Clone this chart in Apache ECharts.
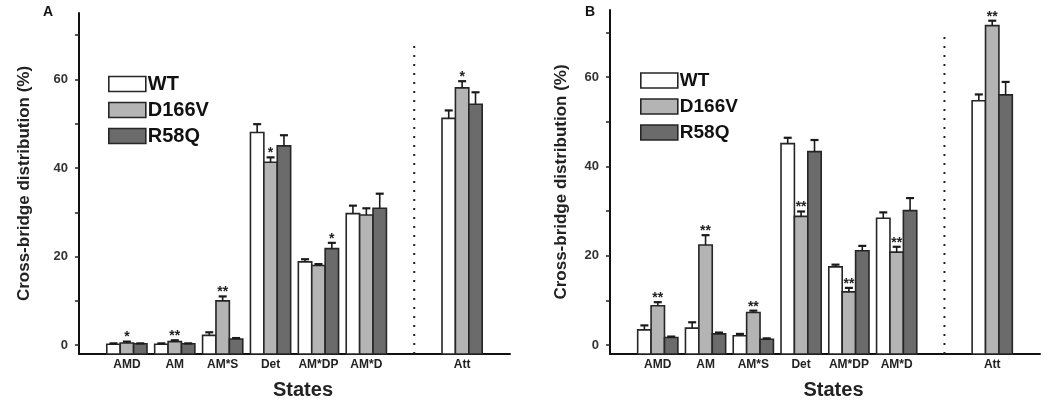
<!DOCTYPE html>
<html>
<head>
<meta charset="utf-8">
<script src="https://cdn.jsdelivr.net/npm/echarts@6/dist/echarts.min.js"></script>
<style>
  html, body { margin: 0; padding: 0; background: #fff; }
  #chart { width: 1050px; height: 405px; }
</style>
</head>
<body>
<div id="chart"></div>
<script>
// axis categories (blank slots keep the gap where the dotted separator sits)
const categories = ['', 'AMD', 'AM', 'AM*S', 'Det', 'AM*DP', 'AM*D', ' ', 'Att', '  ']
const states = ['AMD', 'AM', 'AM*S', 'Det', 'AM*DP', 'AM*D', 'Att']
const groups = ['WT', 'D166V', 'R58Q']
const yTickLabels = [0, 20, 40, 60]
const yTicks = [0, 10, 20, 30, 40, 50, 60, 70]

// panel A
const aWT = [0.2, 0.2, 2.2, 48.0, 18.8, 29.7, 51.2]
const aWTErr = [0.2, 0.2, 0.7, 1.9, 0.6, 1.8, 1.8]
const aD166V = [0.5, 0.8, 10.0, 41.3, 18.0, 29.4, 58.1]
const aD166VErr = [0.3, 0.3, 1.0, 1.1, 0.3, 1.5, 1.5]
const aR58Q = [0.3, 0.3, 1.4, 45.0, 21.8, 30.9, 54.4]
const aR58QErr = [0.1, 0.1, 0.2, 2.4, 1.3, 3.3, 2.7]
const aStarsWT = ['', '', '', '', '', '', '']
const aStarsD166V = ['*', '**', '**', '*', '', '', '*']
const aStarsR58Q = ['', '', '', '', '*', '', '']

// panel B
const bWT = [3.4, 3.8, 2.1, 45.1, 17.5, 28.4, 54.7]
const bWTErr = [1.0, 1.3, 0.4, 1.3, 0.5, 1.3, 1.4]
const bD166V = [8.8, 22.4, 7.3, 28.8, 11.9, 20.8, 71.5]
const bD166VErr = [0.8, 2.2, 0.4, 1.1, 0.9, 1.2, 1.1]
const bR58Q = [1.7, 2.5, 1.3, 43.3, 21.1, 30.1, 56.0]
const bR58QErr = [0.2, 0.3, 0.2, 2.6, 1.1, 2.8, 2.9]
const bStarsWT = ['', '', '', '', '', '', '']
const bStarsD166V = ['**', '**', '**', '**', '**', '**', '**']
const bStarsR58Q = ['', '', '', '', '', '', '']

// dotted separator between detached and attached states
const sepCategory = categories[7]
const sepTopA = 68
const sepTopB = 70.5

const Y_MIN = -2
const Y_MAX = 75
const FONT = 'Arial, "Liberation Sans", Helvetica, sans-serif'
const fills = ['#ffffff', '#b4b4b4', '#6b6b6b']
const BAR_W = 13.4

function renderBar(k, stars) {
  return function (params, api) {
    const xi = api.value(0)
    const v = api.value(1)
    const e = api.value(2)
    const base = api.coord([xi, Y_MIN])
    const top = api.coord([xi, v])
    const cap = api.coord([xi, v + e])
    const cx = base[0] + (k - 1) * BAR_W
    const children = [
      {
        type: 'rect',
        shape: { x: cx - BAR_W / 2, y: top[1], width: BAR_W, height: base[1] - top[1] },
        style: { fill: fills[k], stroke: '#262626', lineWidth: 1.6 }
      },
      {
        type: 'line',
        shape: { x1: cx, y1: top[1], x2: cx, y2: cap[1] },
        style: { stroke: '#1a1a1a', lineWidth: 1.6 }
      },
      {
        type: 'line',
        shape: { x1: cx - 4, y1: cap[1], x2: cx + 4, y2: cap[1] },
        style: { stroke: '#1a1a1a', lineWidth: 2.2 }
      }
    ]
    const s = stars[params.dataIndex]
    if (s) {
      children.push({
        type: 'text',
        style: {
          text: s, x: cx, y: cap[1] + 3,
          align: 'center', verticalAlign: 'bottom',
          font: 'bold 14px ' + FONT, fill: '#222'
        }
      })
    }
    return { type: 'group', children }
  }
}

function barSeries(gi, k, vals, errs, stars) {
  return {
    type: 'custom',
    name: groups[k],
    xAxisIndex: gi,
    yAxisIndex: gi,
    renderItem: renderBar(k, stars),
    encode: { x: 0, y: 1 },
    itemStyle: { color: fills[k], borderColor: '#262626' },
    data: states.map((s, i) => [s, vals[i], errs[i]]),
    z: 3
  }
}

function sepSeries(gi, topVal) {
  return {
    type: 'line',
    xAxisIndex: gi,
    yAxisIndex: gi,
    showSymbol: false,
    symbol: 'none',
    silent: true,
    lineStyle: { color: '#222', width: 2, type: [2, 7] },
    data: [[sepCategory, Y_MIN], [sepCategory, topVal]],
    z: 2
  }
}

function xAxisCfg(gi) {
  return {
    type: 'category',
    gridIndex: gi,
    data: categories,
    boundaryGap: false,
    name: 'States',
    nameLocation: 'middle',
    nameGap: 26,
    nameTextStyle: { fontFamily: FONT, fontWeight: 'bold', fontSize: 20, color: '#222', padding: [0, 0, 0, 17] },
    axisLine: { onZero: false, lineStyle: { color: '#111', width: 2 } },
    axisTick: { show: false },
    axisLabel: { interval: 0, margin: 5, fontFamily: FONT, fontWeight: 'bold', fontSize: 12, color: '#222' },
    splitLine: { show: false }
  }
}

function yAxisCfg(gi, gap) {
  return {
    type: 'value',
    gridIndex: gi,
    min: Y_MIN,
    max: Y_MAX,
    name: 'Cross-bridge distribution (%)',
    nameLocation: 'middle',
    nameGap: gap,
    nameTextStyle: { fontFamily: FONT, fontWeight: 'bold', fontSize: 17, color: '#222' },
    axisLine: { show: true, onZero: false, lineStyle: { color: '#111', width: 2 } },
    axisTick: { show: true, length: 4, customValues: yTicks, lineStyle: { color: '#222', width: 1.5 } },
    axisLabel: { customValues: yTickLabels, margin: 11, fontFamily: FONT, fontWeight: 'bold', fontSize: 13, color: '#333' },
    splitLine: { show: false }
  }
}

function legendCfg(left, top, gap, fs) {
  return {
    orient: 'vertical',
    left: left,
    top: top,
    itemWidth: 37,
    itemHeight: 15,
    itemGap: gap,
    icon: 'rect',
    selectedMode: false,
    textStyle: { fontFamily: FONT, fontWeight: 'bold', fontSize: fs, color: '#111', padding: [0, 0, 0, -3] },
    data: groups.map((g, k) => ({
      name: g,
      itemStyle: { color: fills[k], borderColor: '#262626', borderWidth: 1.6 }
    }))
  }
}

const myChart = echarts.init(document.getElementById('chart'))
myChart.setOption({
  animation: false,
  backgroundColor: '#fff',
  title: [
    { text: 'A', left: 38, top: 0, textStyle: { fontFamily: FONT, fontWeight: 'bold', fontSize: 14, color: '#111' } },
    { text: 'B', left: 580, top: 0, textStyle: { fontFamily: FONT, fontWeight: 'bold', fontSize: 14, color: '#111' } }
  ],
  legend: [legendCfg(103, 69, 6, 20), legendCfg(635, 66, 7, 19)],
  grid: [
    { left: 79, top: 13, width: 431, height: 343 },
    { left: 610, top: 10, width: 430, height: 345 }
  ],
  xAxis: [xAxisCfg(0), xAxisCfg(1)],
  yAxis: [yAxisCfg(0, 46), yAxisCfg(1, 40)],
  series: [
    sepSeries(0, sepTopA),
    barSeries(0, 0, aWT, aWTErr, aStarsWT),
    barSeries(0, 1, aD166V, aD166VErr, aStarsD166V),
    barSeries(0, 2, aR58Q, aR58QErr, aStarsR58Q),
    sepSeries(1, sepTopB),
    barSeries(1, 0, bWT, bWTErr, bStarsWT),
    barSeries(1, 1, bD166V, bD166VErr, bStarsD166V),
    barSeries(1, 2, bR58Q, bR58QErr, bStarsR58Q)
  ]
})
</script>
</body>
</html>
